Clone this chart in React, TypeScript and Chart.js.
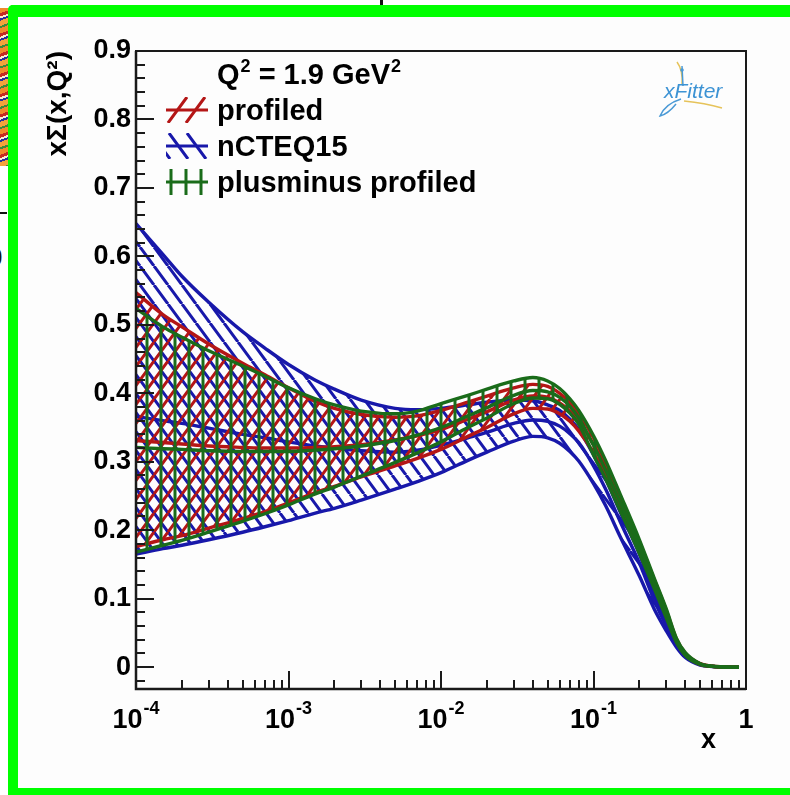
import React, { useEffect, useRef } from 'react';
import { Chart, registerables } from 'chart.js';

Chart.register(...registerables);

// ---------------- data ----------------
const X = [1e-4, 1.5e-4, 2e-4, 3e-4, 5e-4, 7e-4, 1e-3, 1.5e-3, 2e-3, 3e-3, 5e-3, 7e-3, 1e-2, 1.5e-2, 2e-2, 3e-2, 4e-2, 5e-2, 6e-2, 7e-2, 8e-2, 0.1, 0.12, 0.15, 0.2, 0.25, 0.3, 0.35, 0.4, 0.5, 0.6, 0.7, 0.8, 0.9];

const BLUE_UP = [0.648, 0.603, 0.571, 0.533, 0.49, 0.466, 0.442, 0.419, 0.406, 0.39, 0.378, 0.376, 0.378, 0.383, 0.387, 0.39, 0.389, 0.383, 0.375, 0.362, 0.347, 0.31, 0.275, 0.226, 0.165, 0.107, 0.067, 0.037, 0.018, 0.0045, 0.001, 0.0002, 0, 0];
const BLUE_C = [0.366, 0.36, 0.356, 0.349, 0.34, 0.335, 0.329, 0.323, 0.32, 0.316, 0.314, 0.317, 0.324, 0.335, 0.343, 0.356, 0.361, 0.359, 0.352, 0.341, 0.328, 0.294, 0.26, 0.212, 0.152, 0.098, 0.06, 0.033, 0.016, 0.004, 0.001, 0.0002, 0, 0];
const BLUE_LO = [0.165, 0.173, 0.178, 0.186, 0.197, 0.205, 0.214, 0.225, 0.232, 0.244, 0.26, 0.271, 0.284, 0.302, 0.314, 0.33, 0.337, 0.335, 0.327, 0.315, 0.301, 0.268, 0.236, 0.19, 0.133, 0.085, 0.053, 0.029, 0.014, 0.003, 0.0008, 0.0001, 0, 0];

const RED_UP = [0.547, 0.515, 0.497, 0.472, 0.444, 0.427, 0.408, 0.388, 0.378, 0.369, 0.365, 0.367, 0.375, 0.387, 0.396, 0.408, 0.413, 0.41, 0.4, 0.387, 0.371, 0.335, 0.299, 0.249, 0.183, 0.128, 0.083, 0.041, 0.02, 0.005, 0.0012, 0.0003, 0, 0];
const RED_C = [0.331, 0.328, 0.326, 0.323, 0.321, 0.32, 0.32, 0.321, 0.322, 0.325, 0.332, 0.338, 0.347, 0.362, 0.373, 0.39, 0.396, 0.394, 0.386, 0.374, 0.359, 0.325, 0.29, 0.241, 0.177, 0.123, 0.079, 0.039, 0.019, 0.0045, 0.001, 0.0002, 0, 0];
const RED_LO = [0.176, 0.186, 0.192, 0.203, 0.217, 0.227, 0.24, 0.255, 0.264, 0.278, 0.294, 0.305, 0.318, 0.337, 0.35, 0.37, 0.378, 0.377, 0.37, 0.359, 0.345, 0.313, 0.279, 0.232, 0.17, 0.118, 0.075, 0.037, 0.018, 0.004, 0.001, 0.0002, 0, 0];

const GREEN_UP = [0.524, 0.497, 0.482, 0.462, 0.44, 0.425, 0.408, 0.392, 0.383, 0.374, 0.37, 0.374, 0.385, 0.397, 0.406, 0.418, 0.423, 0.418, 0.407, 0.392, 0.375, 0.338, 0.302, 0.252, 0.186, 0.13, 0.085, 0.042, 0.021, 0.005, 0.0012, 0.0003, 0, 0];
const GREEN_C = [0.321, 0.319, 0.318, 0.316, 0.315, 0.315, 0.315, 0.317, 0.319, 0.323, 0.331, 0.339, 0.35, 0.367, 0.379, 0.397, 0.404, 0.402, 0.394, 0.381, 0.364, 0.324, 0.288, 0.24, 0.176, 0.122, 0.078, 0.039, 0.019, 0.0045, 0.001, 0.0002, 0, 0];
const GREEN_LO = [0.168, 0.178, 0.185, 0.197, 0.213, 0.224, 0.237, 0.253, 0.263, 0.279, 0.299, 0.313, 0.329, 0.35, 0.364, 0.385, 0.393, 0.392, 0.384, 0.371, 0.355, 0.31, 0.275, 0.228, 0.166, 0.115, 0.072, 0.036, 0.017, 0.004, 0.001, 0.0002, 0, 0];

const X_TICKS = [1e-4, 1e-3, 1e-2, 1e-1, 1];
const X_TICK_BASE = ['10', '10', '10', '10', '1'];
const X_TICK_EXP = ['-4', '-3', '-2', '-1', ''];
const Y_TICKS = [0, 0.1, 0.2, 0.3, 0.4, 0.5, 0.6, 0.7, 0.8, 0.9];
const Y_TICK_LABELS = ['0', '0.1', '0.2', '0.3', '0.4', '0.5', '0.6', '0.7', '0.8', '0.9'];

const LEGEND_LABELS = ['profiled', 'nCTEQ15', 'plusminus profiled'];
const X_TITLE = 'x';
const Y_TITLE = 'x\u03A3(x,Q\u00B2)';
const LOGO = 'xFitter';

// ---------------- style ----------------
const FONT = '"Liberation Sans", Arial, Helvetica, sans-serif';
const RED = '#b41616';
const BLUE = '#1818aa';
const GREEN = '#1a6c1a';

function makePattern(kind: 'slash' | 'back' | 'vert', color: string): CanvasPattern {
  const w = 14;
  const h = kind === 'vert' ? 14 : 19;
  const c = document.createElement('canvas');
  c.width = w;
  c.height = h;
  const g = c.getContext('2d')!;
  g.strokeStyle = color;
  g.lineWidth = 3;
  g.beginPath();
  if (kind === 'vert') {
    g.moveTo(w / 2, 0);
    g.lineTo(w / 2, h);
  } else if (kind === 'slash') {
    for (const o of [-w, 0, w]) {
      g.moveTo(o, h);
      g.lineTo(o + w, 0);
    }
  } else {
    for (const o of [-w, 0, w]) {
      g.moveTo(o, 0);
      g.lineTo(o + w, h);
    }
  }
  g.stroke();
  return g.createPattern(c, 'repeat')!;
}

export default function App() {
  const ref = useRef<HTMLCanvasElement>(null);

  useEffect(() => {
    const canvas = ref.current!;
    const pRed = makePattern('slash', RED);
    const pBlue = makePattern('back', BLUE);
    const pGreen = makePattern('vert', GREEN);

    const mk = (arr: number[]) => X.map((x, i) => ({ x, y: arr[i] }));
    const ds = (label: string, arr: number[], color: string, order: number, bg?: CanvasPattern) => ({
      label,
      data: mk(arr),
      borderColor: color,
      borderWidth: 3.4,
      pointRadius: 0,
      pointHoverRadius: 0,
      cubicInterpolationMode: 'monotone' as const,
      fill: bg ? '+1' : false,
      backgroundColor: bg ?? 'rgba(0,0,0,0)',
      order,
    });

    const legendRows = [
      { t: LEGEND_LABELS[0], c: RED, kind: 'slash', cy: 110 },
      { t: LEGEND_LABELS[1], c: BLUE, kind: 'back', cy: 146 },
      { t: LEGEND_LABELS[2], c: GREEN, kind: 'vert', cy: 182 },
    ];

    const decor = {
      id: 'decor',
      afterDraw(chart: any) {
        const { ctx, chartArea: a, scales } = chart;
        const xs = scales.x;
        const ys = scales.y;
        ctx.save();
        // frame
        ctx.strokeStyle = '#1a1a1a';
        ctx.lineWidth = 2;
        ctx.strokeRect(a.left, a.top, a.right - a.left, a.bottom - a.top);
        ctx.lineWidth = 2.5;
        ctx.beginPath();
        ctx.moveTo(a.left, a.top);
        ctx.lineTo(a.left, a.bottom);
        ctx.lineTo(a.right, a.bottom);
        ctx.stroke();
        // ticks
        ctx.lineWidth = 2;
        ctx.beginPath();
        for (let k = -1; k <= 45; k++) {
          const v = k * 0.02;
          if (v < ys.min || v > ys.max + 1e-9) continue;
          const p = Math.round(ys.getPixelForValue(v));
          const len = k % 5 === 0 ? 18 : 9;
          ctx.moveTo(a.left, p);
          ctx.lineTo(a.left + len, p);
        }
        for (let e = -4; e < 0; e++) {
          for (let m = 1; m <= 9; m++) {
            const v = m * Math.pow(10, e);
            const p = Math.round(xs.getPixelForValue(v));
            const len = m === 1 ? 18 : 9;
            ctx.moveTo(p, a.bottom);
            ctx.lineTo(p, a.bottom - len);
          }
        }
        ctx.stroke();

        const big = `bold 29px ${FONT}`;
        const tick = `bold 27px ${FONT}`;
        const sup = `bold 18px ${FONT}`;
        ctx.fillStyle = '#000';
        ctx.textBaseline = 'alphabetic';
        ctx.textAlign = 'left';

        // x tick labels (10^n) placed by the x scale
        X_TICKS.forEach((v, i) => {
          const p = xs.getPixelForValue(v);
          ctx.font = tick;
          const wb = ctx.measureText(X_TICK_BASE[i]).width;
          ctx.font = sup;
          const we = X_TICK_EXP[i] ? ctx.measureText(X_TICK_EXP[i]).width + 1 : 0;
          const x0 = p - (wb + we) / 2;
          ctx.font = tick;
          ctx.fillText(X_TICK_BASE[i], x0, a.bottom + 39);
          if (X_TICK_EXP[i]) {
            ctx.font = sup;
            ctx.fillText(X_TICK_EXP[i], x0 + wb + 1, a.bottom + 25);
          }
        });

        // legend header: Q^2 = 1.9 GeV^2
        let hx = 217;
        const hb = 84;
        ctx.font = big;
        ctx.fillText('Q', hx, hb);
        hx += ctx.measureText('Q').width + 1;
        ctx.font = sup;
        ctx.fillText('2', hx, hb - 12);
        hx += ctx.measureText('2').width;
        ctx.font = big;
        ctx.fillText(' = 1.9 GeV', hx, hb);
        hx += ctx.measureText(' = 1.9 GeV').width + 1;
        ctx.font = sup;
        ctx.fillText('2', hx, hb - 12);

        // legend rows
        for (const r of legendRows) {
          const top = r.cy - 13;
          const bot = r.cy + 13;
          ctx.save();
          ctx.beginPath();
          ctx.rect(166, top, 42, 26);
          ctx.clip();
          ctx.strokeStyle = r.c;
          ctx.lineWidth = 3;
          ctx.beginPath();
          if (r.kind === 'vert') {
            for (const x of [171, 186, 201]) {
              ctx.moveTo(x, top);
              ctx.lineTo(x, bot);
            }
          } else if (r.kind === 'slash') {
            for (const x of [168, 186]) {
              ctx.moveTo(x, bot);
              ctx.lineTo(x + 19, top);
            }
          } else {
            for (const x of [151, 169, 187]) {
              ctx.moveTo(x, top);
              ctx.lineTo(x + 19, bot);
            }
          }
          ctx.stroke();
          ctx.beginPath();
          ctx.moveTo(166, r.cy);
          ctx.lineTo(208, r.cy);
          ctx.stroke();
          ctx.restore();
          ctx.fillStyle = '#000';
          ctx.font = big;
          ctx.fillText(r.t, 217, r.cy + 10);
        }

        // xFitter logo
        ctx.lineWidth = 1.5;
        ctx.strokeStyle = '#e6c35a';
        ctx.beginPath();
        ctx.moveTo(677, 62);
        ctx.quadraticCurveTo(683, 70, 682, 84);
        ctx.moveTo(684, 101);
        ctx.quadraticCurveTo(705, 103, 722, 108);
        ctx.stroke();
        ctx.strokeStyle = '#4b9ad6';
        ctx.beginPath();
        ctx.moveTo(682, 66);
        ctx.lineTo(683, 86);
        ctx.moveTo(681, 99);
        ctx.quadraticCurveTo(665, 104, 660, 116);
        ctx.quadraticCurveTo(668, 114, 676, 104);
        ctx.stroke();
        ctx.fillStyle = '#4b9ad6';
        ctx.beginPath();
        ctx.arc(682, 70, 1.8, 0, Math.PI * 2);
        ctx.fill();
        ctx.font = `italic 21px ${FONT}`;
        ctx.fillStyle = '#3d93d4';
        ctx.fillText(LOGO, 664, 98);
        ctx.restore();
      },
    };

    const tickFont = { family: FONT, size: 27, weight: 'bold' as const };

    const chart = new Chart(canvas, {
      type: 'line',
      data: {
        datasets: [
          ds('nCTEQ15 up', BLUE_UP, BLUE, 9, pBlue),
          ds('nCTEQ15 lo', BLUE_LO, BLUE, 8),
          ds('nCTEQ15', BLUE_C, BLUE, 7),
          ds('profiled up', RED_UP, RED, 6, pRed),
          ds('profiled lo', RED_LO, RED, 5),
          ds('profiled', RED_C, RED, 4),
          ds('plusminus profiled up', GREEN_UP, GREEN, 3, pGreen),
          ds('plusminus profiled lo', GREEN_LO, GREEN, 2),
          ds('plusminus profiled', GREEN_C, GREEN, 1),
        ] as any,
      },
      options: {
        responsive: false,
        animation: false,
        events: [],
        layout: { padding: { top: 51, right: 44, left: 0, bottom: 0 } },
        plugins: {
          legend: { display: false },
          tooltip: { enabled: false },
        },
        scales: {
          x: {
            type: 'logarithmic',
            min: 1e-4,
            max: 1,
            bounds: 'data',
            position: 'bottom',
            afterBuildTicks: (s: any) => {
              s.ticks = X_TICKS.map((v) => ({ value: v }));
            },
            afterFit: (s: any) => {
              s.height = 106;
            },
            ticks: { display: false },
            grid: { display: false, drawTicks: false },
            border: { display: false },
            title: {
              display: true,
              text: X_TITLE + '    ',
              align: 'end',
              color: '#000',
              font: tickFont,
              padding: { top: 0, bottom: 38 },
            },
          },
          y: {
            type: 'linear',
            min: -0.032,
            max: 0.9,
            bounds: 'data',
            afterBuildTicks: (s: any) => {
              s.ticks = Y_TICKS.map((v) => ({ value: v }));
            },
            afterFit: (s: any) => {
              s.width = 136;
            },
            ticks: {
              autoSkip: false,
              padding: 5,
              color: '#000',
              font: tickFont,
              callback: (_v: any, i: number) => Y_TICK_LABELS[i],
            },
            grid: { display: false, drawTicks: false },
            border: { display: false },
            title: {
              display: true,
              text: Y_TITLE,
              align: 'end',
              color: '#000',
              font: { family: FONT, size: 28, weight: 'bold' },
              padding: { top: 41, bottom: 0 },
            },
          },
        },
      } as any,
      plugins: [decor],
    });
    return () => chart.destroy();
  }, []);

  return (
    <div style={{ position: 'fixed', left: 0, top: 0, width: 790, height: 795, overflow: 'hidden', background: '#ffffff' }}>
      <div
        style={{
          position: 'absolute',
          left: 0,
          top: 8,
          width: 8,
          height: 158,
          background:
            'repeating-linear-gradient(160deg, #f08a2a 0px, #f08a2a 5px, #c42a22 5px, #c42a22 8px, #fbe8d0 8px, #fbe8d0 10px, #27309a 10px, #27309a 12px, #f4a23c 12px, #f4a23c 17px, #3b8a3b 17px, #3b8a3b 19px)',
        }}
      />
      <div style={{ position: 'absolute', left: 0, top: 212, width: 7, height: 2, background: '#111' }} />
      <div style={{ position: 'absolute', left: -12, top: 242, font: `bold 26px ${FONT}`, color: '#111' }}>0</div>
      <div style={{ position: 'absolute', left: 380, top: 0, width: 3, height: 6, background: '#111' }} />
      <div
        style={{
          position: 'absolute',
          left: 8,
          top: 5,
          width: 800,
          height: 795,
          boxSizing: 'border-box',
          borderStyle: 'solid',
          borderColor: '#00ff00',
          borderWidth: '12px 0 12px 10px',
          borderTopLeftRadius: 5,
          background: '#fdfdfd',
        }}
      />
      <canvas ref={ref} width={790} height={795} style={{ position: 'absolute', left: 0, top: 0 }} />
    </div>
  );
}
